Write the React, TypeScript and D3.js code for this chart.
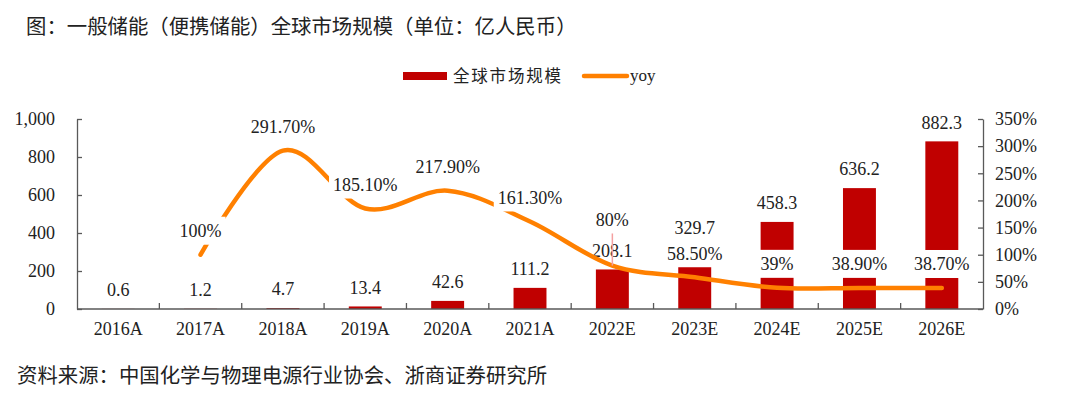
import { useEffect, useRef } from 'react';
import * as d3 from 'd3';

// values
const categories = ['2016A', '2017A', '2018A', '2019A', '2020A', '2021A', '2022E', '2023E', '2024E', '2025E', '2026E'];
const marketSize = [0.6, 1.2, 4.7, 13.4, 42.6, 111.2, 208.1, 329.7, 458.3, 636.2, 882.3];
const yoy: (number | null)[] = [null, 1.0, 2.917, 1.851, 2.179, 1.613, 0.8, 0.585, 0.39, 0.389, 0.387];
const yoyLabels = ['', '100%', '291.70%', '185.10%', '217.90%', '161.30%', '80%', '58.50%', '39%', '38.90%', '38.70%'];
const leftTicks = [0, 200, 400, 600, 800, 1000];
const rightTicks = [0, 0.5, 1, 1.5, 2, 2.5, 3, 3.5];

const serif = '"Liberation Serif", "Times New Roman", serif';
const cjk = '"Noto Sans CJK SC", sans-serif';

const App = () => {
  const svgRef = useRef<SVGSVGElement>(null);

  useEffect(() => {
    if (!svgRef.current) return;
    const svg = d3.select(svgRef.current);
    svg.selectAll('*').remove();

    const left = 77;
    const right = 983;
    const top = 119;
    const bottom = 309;
    const axisColor = '#595959';

    const x = d3.scaleBand().domain(categories).range([left, right]).paddingInner(0.6).paddingOuter(0.3);
    const step = x.step();
    const cx = (c: string) => x(c)! + x.bandwidth() / 2;
    const y = d3.scaleLinear().domain([0, 1000]).range([bottom, top]);
    const y2 = d3.scaleLinear().domain([0, 3.5]).range([bottom, top]);

    // title
    svg.append('text')
      .attr('x', 26).attr('y', 27).attr('dy', '0.35em')
      .attr('font-family', cjk).attr('font-size', 20.4).attr('fill', '#222')
      .text('图：一般储能（便携储能）全球市场规模（单位：亿人民币）');

    // legend
    const lg = svg.append('g').attr('transform', 'translate(403,76)');
    lg.append('rect').attr('x', 0).attr('y', -4).attr('width', 44).attr('height', 8).attr('fill', '#C00000');
    lg.append('text')
      .attr('x', 50).attr('y', 0).attr('dy', '0.35em')
      .attr('font-family', cjk).attr('font-size', 16.5).attr('letter-spacing', 1.8).attr('fill', '#222')
      .text('全球市场规模');
    lg.append('line')
      .attr('x1', 181).attr('x2', 224).attr('y1', 0).attr('y2', 0)
      .attr('stroke', '#FF8000').attr('stroke-width', 4.5).attr('stroke-linecap', 'round');
    lg.append('text')
      .attr('x', 227).attr('y', 0).attr('dy', '0.3em')
      .attr('font-family', serif).attr('font-size', 17).attr('fill', '#222')
      .text('yoy');

    // left axis
    svg.append('g')
      .attr('transform', `translate(${left},0)`)
      .call(d3.axisLeft(y).tickValues(leftTicks).tickSizeInner(-5).tickSizeOuter(0).tickPadding(22).tickFormat(d3.format(',')))
      .call((g) => g.select('.domain').attr('stroke', axisColor).attr('stroke-width', 1.3))
      .call((g) => g.selectAll('.tick line').attr('stroke', axisColor).attr('stroke-width', 1.3))
      .call((g) => g.selectAll('.tick text').attr('font-family', serif).attr('font-size', 18).attr('fill', '#222'));

    // right axis
    svg.append('g')
      .attr('transform', `translate(${right},0)`)
      .call(d3.axisRight(y2).tickValues(rightTicks).tickSizeInner(-5).tickSizeOuter(0).tickPadding(12).tickFormat(d3.format('.0%')))
      .call((g) => g.select('.domain').attr('stroke', axisColor).attr('stroke-width', 1.3))
      .call((g) => g.selectAll('.tick line').attr('stroke', axisColor).attr('stroke-width', 1.3))
      .call((g) => g.selectAll('.tick text').attr('font-family', serif).attr('font-size', 18).attr('fill', '#222'));

    // bars
    svg.selectAll('.bar')
      .data(categories)
      .enter()
      .append('rect')
      .attr('class', 'bar')
      .attr('x', (d) => x(d)!)
      .attr('y', (_, i) => y(marketSize[i]))
      .attr('width', x.bandwidth())
      .attr('height', (_, i) => bottom - y(marketSize[i]))
      .attr('fill', '#C00000');

    // x axis
    svg.append('line')
      .attr('x1', left).attr('x2', right).attr('y1', bottom).attr('y2', bottom)
      .attr('stroke', axisColor).attr('stroke-width', 1.3);
    svg.selectAll('.xtick')
      .data(d3.range(1, categories.length))
      .enter()
      .append('line')
      .attr('x1', (i) => left + i * step).attr('x2', (i) => left + i * step)
      .attr('y1', bottom).attr('y2', bottom - 6)
      .attr('stroke', axisColor).attr('stroke-width', 1.3);
    svg.selectAll('.xlabel')
      .data(categories)
      .enter()
      .append('text')
      .attr('x', (d) => cx(d)).attr('y', 329).attr('dy', '0.35em')
      .attr('text-anchor', 'middle')
      .attr('font-family', serif).attr('font-size', 18).attr('fill', '#222')
      .text((d) => d);

    // bar value labels
    const barLabelY = (i: number) => y(marketSize[i]) - 19;
    svg.selectAll('.barlabel')
      .data(categories)
      .enter()
      .append('text')
      .attr('x', (d) => cx(d)).attr('y', (_, i) => barLabelY(i)).attr('dy', '0.35em')
      .attr('text-anchor', 'middle')
      .attr('font-family', serif).attr('font-size', 18).attr('fill', '#222')
      .text((_, i) => marketSize[i]);

    // yoy line
    const pts = categories
      .map((c, i) => ({ c, i, v: yoy[i] }))
      .filter((p) => p.v !== null) as { c: string; i: number; v: number }[];
    const line = d3.line<{ c: string; v: number }>()
      .x((p) => cx(p.c))
      .y((p) => y2(p.v))
      .curve(d3.curveCatmullRom.alpha(0));
    svg.append('path')
      .datum(pts)
      .attr('d', line)
      .attr('fill', 'none')
      .attr('stroke', '#FF8000')
      .attr('stroke-width', 4.5)
      .attr('stroke-linecap', 'round');

    // yoy labels with white boxes, pushed up when they hit a bar label
    pts.forEach((p) => {
      const py = y2(p.v);
      let ly = py - 24;
      const by = barLabelY(p.i);
      let moved = false;
      if (Math.abs(ly - by) < 18) {
        ly = by - 31;
        moved = true;
      }
      const g = svg.append('g');
      const box = g.append('rect').attr('fill', 'white');
      const t = g.append('text')
        .attr('x', cx(p.c)).attr('y', ly).attr('dy', '0.35em')
        .attr('text-anchor', 'middle')
        .attr('font-family', serif).attr('font-size', 18).attr('fill', '#222')
        .text(yoyLabels[p.i]);
      const w = (t.node() as SVGTextElement).getComputedTextLength();
      box.attr('x', cx(p.c) - w / 2 - 4).attr('y', ly - 14).attr('width', w + 8).attr('height', 28);
      if (moved) {
        svg.append('line')
          .attr('x1', cx(p.c)).attr('x2', cx(p.c))
          .attr('y1', ly + 14).attr('y2', py)
          .attr('stroke', '#F4A0A0').attr('stroke-width', 1.5);
      }
    });

    // source
    svg.append('text')
      .attr('x', 17).attr('y', 376).attr('dy', '0.35em')
      .attr('font-family', cjk).attr('font-size', 20.4).attr('fill', '#222')
      .text('资料来源：中国化学与物理电源行业协会、浙商证券研究所');
  }, []);

  return (
    <svg
      ref={svgRef}
      width={1068}
      height={397}
      style={{ position: 'absolute', left: 0, top: 0, background: 'white' }}
    ></svg>
  );
};

export default App;
